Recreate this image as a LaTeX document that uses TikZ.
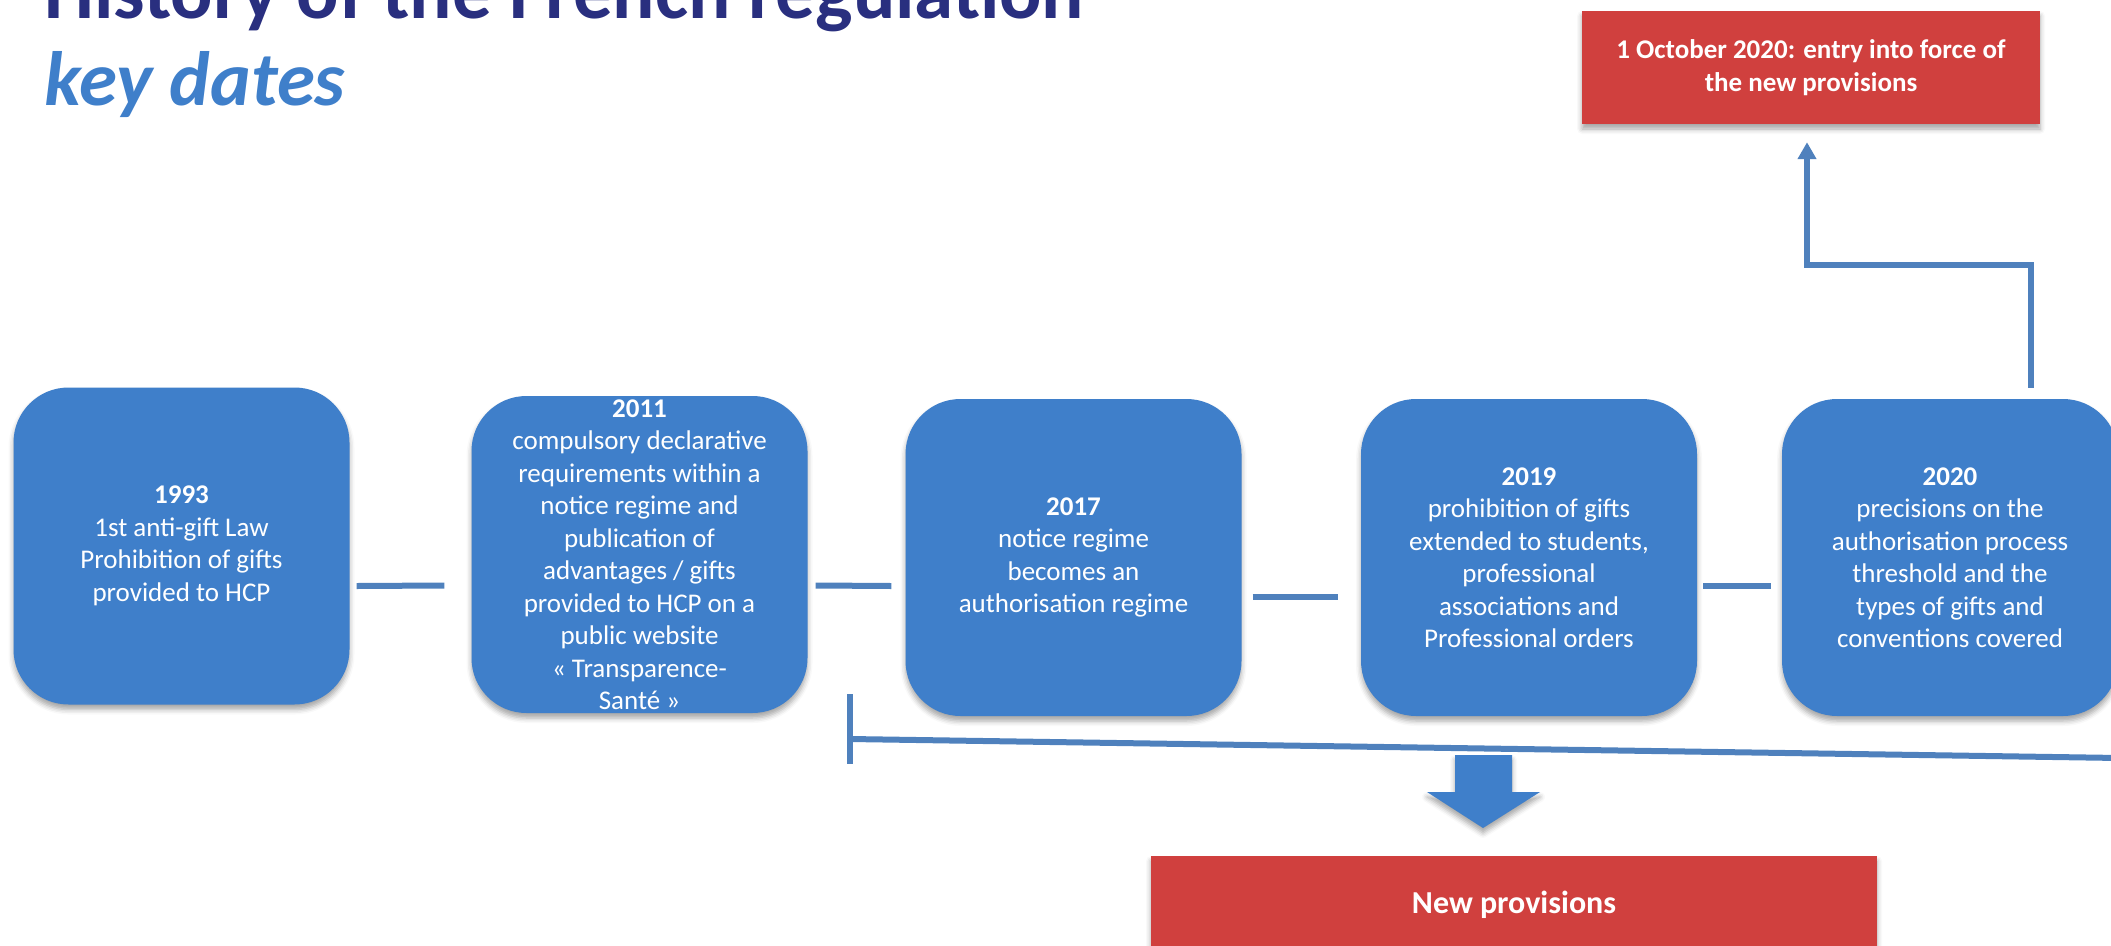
\documentclass[tikz,border=0pt]{standalone}
\usepackage{fontspec}
\setmainfont{Carlito}
\usetikzlibrary{arrows.meta,shadows.blur}
\definecolor{yearblue}{RGB}{63,127,202}
\definecolor{linkblue}{RGB}{79,129,189}
\definecolor{lawred}{RGB}{208,64,62}
\definecolor{titlenavy}{RGB}{41,47,127}
\begin{document}
\begin{tikzpicture}[x=1pt,y=-1pt,
	softshadow/.style={blur shadow={shadow xshift=0pt,shadow yshift=-5pt,shadow blur radius=5pt,shadow opacity=35}},
	yearbox/.style={fill=yearblue,text=white,rounded corners=55pt,minimum width=336pt,minimum height=317pt,inner sep=0pt,align=center,font=\fontsize{27}{32.5}\selectfont,softshadow},
	redbox/.style={fill=lawred,text=white,inner sep=0pt,align=center,font=\fontsize{27}{33}\selectfont\bfseries,softshadow},
	link/.style={draw=linkblue,line width=6pt},
	titleline/.style={anchor=base west,inner sep=0pt,font=\fontsize{79}{80}\selectfont\bfseries}]
	\useasboundingbox (0,0) rectangle (2111,945);
	\node[titleline,text=titlenavy] (title) at (44,18) {History of the French regulation};
	\node[titleline,text=yearblue,font=\fontsize{77}{80}\selectfont\bfseries\itshape] (subtitle) at (44,105) {key dates};
	\node[yearbox] (y1993) at (181.5,546) {\textbf{1993}\\1st anti-gift Law\\Prohibition of gifts\\provided to HCP};
	\node[yearbox] (y2011) at (639.5,554.5) {\textbf{2011}\\compulsory declarative\\requirements within a\\notice regime and\\publication of\\advantages / gifts\\provided to HCP on a\\public website\\« Transparence-\\Santé »};
	\node[yearbox] (y2017) at (1073.5,557.5) {\textbf{2017}\\notice regime\\becomes an\\authorisation regime};
	\node[yearbox] (y2019) at (1529,557.5) {\textbf{2019}\\prohibition of gifts\\extended to students,\\professional\\associations and\\Professional orders};
	\node[yearbox] (y2020) at (1950,557.5) {\textbf{2020}\\precisions on the\\authorisation process\\threshold and the\\types of gifts and\\conventions covered};
	\node[redbox,minimum width=458pt,minimum height=113pt] (force) at (1811,67.5) {1 October 2020: entry into force of\\the new provisions};
	\node[redbox,minimum width=726pt,minimum height=98pt,font=\fontsize{32}{36}\selectfont\bfseries] (newprov) at (1514,905) {New provisions};
	\draw[link] ([shift={(7,40)}]y1993.east) -- ([shift={(-27,31)}]y2011.west);
	\draw[link] ([shift={(8,31)}]y2011.east) -- ([shift={(-14,28.5)}]y2017.west);
	\draw[link] ([shift={(11,39.5)}]y2017.east) -- ([shift={(-23,39.5)}]y2019.west);
	\draw[link] ([shift={(6,28.5)}]y2019.east) -- ([shift={(-11,28.5)}]y2020.west);
	\draw[link,line width=5.5pt,-{Triangle[length=17pt,width=18pt]}] ([shift={(81,-11)}]y2020.north) |- ([shift={(-4,141)}]force.south) -- ([shift={(-4,18)}]force.south);
	\coordinate (bracetop) at (850,694);
	\coordinate (bracebot) at (850,764);
	\coordinate (bracemid) at (850,739);
	\coordinate (braceend) at (2120,758);
	\draw[link] (bracetop) -- (bracebot);
	\draw[link] (bracemid) -- (braceend);
	\fill[yearblue,softshadow] (1455,755) -- (1512,755) -- (1512,792) -- (1540,792) -- (1483,828) -- (1427,792) -- (1455,792) -- cycle;
\end{tikzpicture}
\end{document}
